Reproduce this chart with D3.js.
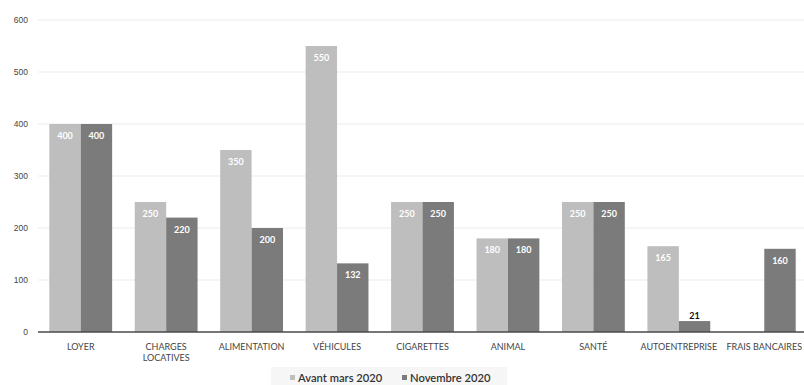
<!DOCTYPE html>
<html>
<head>
<meta charset="utf-8">
<script src="https://cdn.jsdelivr.net/npm/d3@7"></script>
<style>
  html, body { margin: 0; padding: 0; background: #fff; }
  svg { display: block; font-family: Lato, "Open Sans", sans-serif; }
</style>
</head>
<body>
<svg id="chart" width="804" height="385"></svg>
<script>
// Monthly expenses by category, before March 2020 vs November 2020
const categories = ["LOYER", "CHARGES LOCATIVES", "ALIMENTATION", "VÉHICULES", "CIGARETTES", "ANIMAL", "SANTÉ", "AUTOENTREPRISE", "FRAIS BANCAIRES"];
const avantMars2020 = [400, 250, 350, 550, 250, 180, 250, 165, null];
const novembre2020 = [400, 220, 200, 132, 250, 180, 250, 21, 160];
const seriesNames = ["Avant mars 2020", "Novembre 2020"];
const yTicks = [0, 100, 200, 300, 400, 500, 600];

const colors = ["#bebebe", "#7b7b7b"];
const svg = d3.select("#chart");

const x0 = d3.scaleBand().domain(categories).range([38, 807]).paddingInner(0).paddingOuter(0);
const x1 = d3.scaleBand().domain([0, 1]).range([0, x0.bandwidth()]).paddingInner(0).paddingOuter(0.36);
const y = d3.scaleLinear().domain([0, 600]).range([332, 20]);

// Gridlines
svg.append("g")
  .selectAll("line")
  .data(yTicks.filter(d => d > 0))
  .join("line")
  .attr("x1", 38).attr("x2", 804)
  .attr("y1", d => y(d)).attr("y2", d => y(d))
  .attr("stroke", "#ececec").attr("stroke-width", 1.2);

// Y axis labels
const yAxis = svg.append("g")
  .attr("transform", "translate(28,0)")
  .call(d3.axisLeft(y).tickValues(yTicks).tickSize(0).tickPadding(0));
yAxis.select(".domain").remove();
yAxis.selectAll("text")
  .attr("fill", "#444").attr("font-size", 8.5);

// Bars
const rows = categories.map((c, i) => ({ cat: c, vals: [avantMars2020[i], novembre2020[i]] }));
const groups = svg.append("g").selectAll("g")
  .data(rows).join("g")
  .attr("transform", d => `translate(${x0(d.cat)},0)`);

groups.selectAll("rect")
  .data(d => d.vals.map((v, s) => ({ v, s })).filter(e => e.v != null))
  .join("rect")
  .attr("x", e => x1(e.s))
  .attr("width", x1.bandwidth())
  .attr("y", e => y(e.v))
  .attr("height", e => y(0) - y(e.v))
  .attr("fill", e => colors[e.s]);

// Value labels
groups.selectAll("text")
  .data(d => d.vals.map((v, s) => ({ v, s })).filter(e => e.v != null))
  .join("text")
  .attr("x", e => x1(e.s) + x1.bandwidth() / 2)
  .attr("y", e => (y(0) - y(e.v) > 20) ? y(e.v) + 15 : y(e.v) - 2)
  .attr("text-anchor", "middle")
  .attr("font-size", 9)
  .attr("font-weight", "bold")
  .attr("fill", e => (y(0) - y(e.v) > 20) ? "#fff" : "#111")
  .text(e => e.v);

// Baseline
svg.append("line")
  .attr("x1", 38).attr("x2", 804)
  .attr("y1", y(0)).attr("y2", y(0))
  .attr("stroke", "#4a4a4a").attr("stroke-width", 1.6);

// Category labels (wrapped on spaces when needed)
const catLabels = svg.append("g").selectAll("text")
  .data(categories).join("text")
  .attr("x", d => x0(d) + x0.bandwidth() / 2)
  .attr("y", 350)
  .attr("text-anchor", "middle")
  .attr("font-size", 9)
  .attr("fill", "#444");
catLabels.each(function(d) {
  const t = d3.select(this);
  const lines = d === "CHARGES LOCATIVES" ? ["CHARGES", "LOCATIVES"] : [d];
  lines.forEach((l, i) => {
    t.append("tspan").attr("x", x0(d) + x0.bandwidth() / 2).attr("dy", i ? 11 : 0).text(l);
  });
});

// Legend
const legend = svg.append("g");
legend.append("rect")
  .attr("x", 271).attr("y", 367).attr("width", 236).attr("height", 18)
  .attr("fill", "#f6f6f6");
const legendX = [290, 402];
seriesNames.forEach((name, i) => {
  legend.append("rect")
    .attr("x", legendX[i]).attr("y", 375).attr("width", 5).attr("height", 5)
    .attr("fill", colors[i]);
  legend.append("text")
    .attr("x", legendX[i] + 8).attr("y", 382)
    .attr("font-size", 11.2)
    .attr("font-weight", 600)
    .attr("fill", "#333")
    .text(name);
});
</script>
</body>
</html>
